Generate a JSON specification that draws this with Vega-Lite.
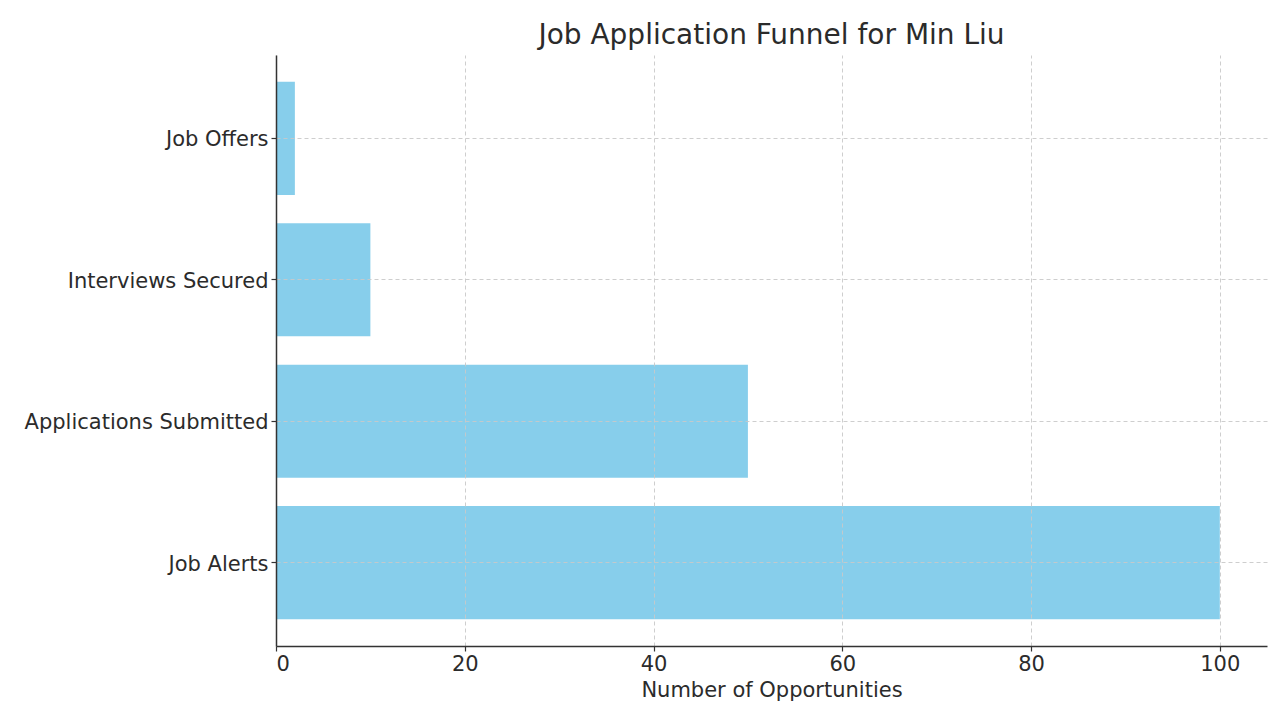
{
  "$schema": "https://vega.github.io/schema/vega-lite/v6.json",
  "autosize": "none",
  "width": 991,
  "height": 591,
  "padding": {"left": 276, "top": 55, "right": 9, "bottom": 61},
  "background": "white",
  "title": {
    "text": "Job Application Funnel for Min Liu",
    "anchor": "middle",
    "frame": "group",
    "font": "DejaVu Sans",
    "fontSize": 28,
    "fontWeight": "normal",
    "color": "#2b2b2b",
    "offset": 5
  },
  "data": {
    "values": [
      {"stage": "Job Alerts", "count": 100},
      {"stage": "Applications Submitted", "count": 50},
      {"stage": "Interviews Secured", "count": 10},
      {"stage": "Job Offers", "count": 2}
    ]
  },
  "mark": {"type": "bar", "color": "#87CEEB"},
  "encoding": {
    "y": {
      "field": "stage",
      "type": "nominal",
      "sort": ["Job Offers", "Interviews Secured", "Applications Submitted", "Job Alerts"],
      "scale": {"paddingInner": 0.2, "paddingOuter": 0.19},
      "axis": {
        "title": null,
        "bandPosition": 0.5,
        "labelLimit": 0,
        "labelOffset": 2,
        "zindex": 1
      }
    },
    "x": {
      "field": "count",
      "type": "quantitative",
      "scale": {"domain": [0, 105], "nice": false, "zero": true},
      "axis": {
        "title": "Number of Opportunities",
        "values": [0, 20, 40, 60, 80, 100],
        "zindex": 1,
        "labelPadding": 2,
        "titlePadding": 5
      }
    }
  },
  "config": {
    "view": {"stroke": null},
    "axis": {
      "labelFont": "DejaVu Sans",
      "labelFontSize": 21,
      "labelColor": "#2b2b2b",
      "labelPadding": 3,
      "titleFont": "DejaVu Sans",
      "titleFontSize": 21,
      "titleFontWeight": "normal",
      "titleColor": "#2b2b2b",
      "domainColor": "#333333",
      "domainWidth": 1.5,
      "tickColor": "#333333",
      "tickWidth": 1.2,
      "tickSize": 5,
      "grid": true,
      "gridColor": "#c8c8c8",
      "gridDash": [4, 3],
      "gridWidth": 0.9
    }
  }
}
